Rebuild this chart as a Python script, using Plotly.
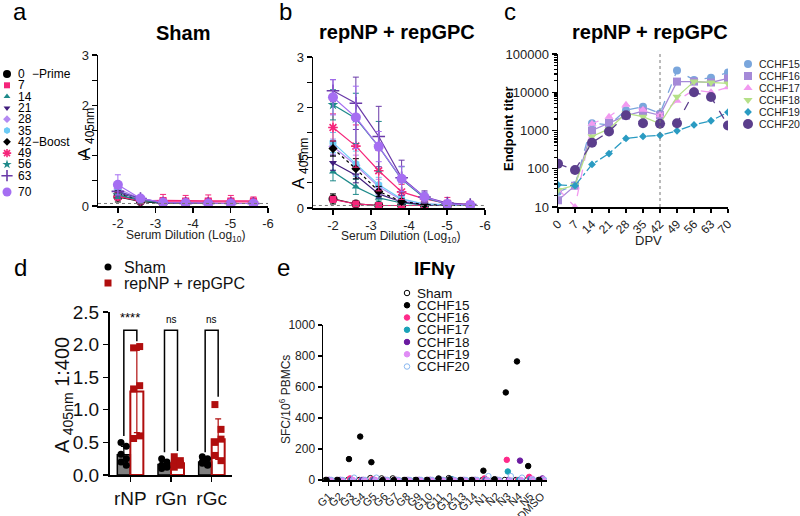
import numpy as np
import plotly.graph_objects as go

W, H = 800, 516

# ---------------- data ----------------
dilution_log = [-2.0, -2.602, -3.204, -3.806, -4.408, -5.010, -5.612]
day_labels = ["0", "7", "14", "21", "28", "35", "42", "49", "56", "63", "70"]

# panel a : Sham, A405 per day (rows) and dilution (cols)
sham_abs = [
    [0.18, 0.09, 0.05, 0.05, 0.05, 0.05, 0.05],
    [0.20, 0.10, 0.11, 0.10, 0.10, 0.10, 0.10],
    [0.22, 0.11, 0.06, 0.05, 0.05, 0.05, 0.05],
    [0.27, 0.13, 0.06, 0.05, 0.05, 0.05, 0.05],
    [0.34, 0.15, 0.07, 0.06, 0.05, 0.05, 0.05],
    [0.30, 0.13, 0.06, 0.05, 0.05, 0.05, 0.05],
    [0.24, 0.11, 0.05, 0.05, 0.05, 0.05, 0.05],
    [0.19, 0.10, 0.08, 0.08, 0.08, 0.08, 0.08],
    [0.22, 0.11, 0.06, 0.05, 0.05, 0.05, 0.05],
    [0.29, 0.15, 0.06, 0.05, 0.05, 0.05, 0.05],
    [0.42, 0.15, 0.07, 0.06, 0.05, 0.05, 0.05],
]
sham_err = [
    [0.10, 0.03, 0.02, 0.02, 0.02, 0.02, 0.02],
    [0.08, 0.04, 0.12, 0.11, 0.12, 0.11, 0.08],
    [0.08, 0.03, 0.02, 0.02, 0.02, 0.02, 0.02],
    [0.08, 0.04, 0.02, 0.02, 0.02, 0.02, 0.02],
    [0.10, 0.05, 0.02, 0.02, 0.02, 0.02, 0.02],
    [0.08, 0.04, 0.02, 0.02, 0.02, 0.02, 0.02],
    [0.07, 0.03, 0.02, 0.02, 0.02, 0.02, 0.02],
    [0.07, 0.04, 0.05, 0.05, 0.05, 0.05, 0.05],
    [0.07, 0.03, 0.02, 0.02, 0.02, 0.02, 0.02],
    [0.08, 0.05, 0.02, 0.02, 0.02, 0.02, 0.02],
    [0.20, 0.05, 0.02, 0.02, 0.02, 0.02, 0.02],
]

# panel b : repNP + repGPC
rep_abs = [
    [0.18, 0.08, 0.05, 0.05, 0.05, 0.05, 0.05],
    [0.17, 0.08, 0.05, 0.05, 0.05, 0.05, 0.05],
    [0.72, 0.42, 0.20, 0.10, 0.06, 0.05, 0.05],
    [0.90, 0.65, 0.28, 0.12, 0.06, 0.05, 0.05],
    [1.22, 0.85, 0.42, 0.16, 0.08, 0.06, 0.05],
    [1.30, 0.88, 0.46, 0.18, 0.08, 0.06, 0.05],
    [1.18, 0.78, 0.33, 0.13, 0.07, 0.05, 0.05],
    [1.60, 1.23, 0.74, 0.32, 0.18, 0.09, 0.07],
    [2.05, 1.78, 1.22, 0.57, 0.20, 0.08, 0.06],
    [2.33, 2.08, 1.42, 0.60, 0.22, 0.10, 0.07],
    [2.20, 1.80, 1.22, 0.58, 0.22, 0.08, 0.06],
]
rep_err = [
    [0.10, 0.03, 0.02, 0.02, 0.02, 0.02, 0.02],
    [0.06, 0.03, 0.02, 0.02, 0.02, 0.02, 0.02],
    [0.18, 0.15, 0.06, 0.03, 0.02, 0.02, 0.02],
    [0.15, 0.15, 0.08, 0.04, 0.03, 0.02, 0.02],
    [0.15, 0.20, 0.15, 0.06, 0.04, 0.03, 0.02],
    [0.20, 0.25, 0.15, 0.07, 0.05, 0.03, 0.02],
    [0.15, 0.20, 0.10, 0.05, 0.03, 0.02, 0.02],
    [0.27, 0.42, 0.40, 0.15, 0.08, 0.12, 0.05],
    [0.30, 0.50, 0.50, 0.25, 0.10, 0.04, 0.03],
    [0.22, 0.52, 0.60, 0.35, 0.12, 0.05, 0.03],
    [0.35, 0.62, 0.30, 0.25, 0.10, 0.04, 0.03],
]

# panel c : endpoint titers
dpv = [0, 7, 14, 21, 28, 35, 42, 49, 56, 63, 70]
animal_names = ["CCHF15", "CCHF16", "CCHF17", "CCHF18", "CCHF19", "CCHF20"]
titer_cchf15 = [25, 37, 1550, 1400, 3400, 4200, 2800, 37000, 21000, 24000, 33000]
titer_cchf16 = [15, 36, 1000, 1600, 2450, 3200, 2500, 19000, 19000, 18000, 23000]
titer_cchf17 = [30, 10, 1500, 2300, 4700, 3500, 2500, 6000, 11500, 10000, 13500]
titer_cchf18 = [28, 37, 700, 1100, 2800, 2300, 1500, 7600, 19000, 18000, 17000]
titer_cchf19 = [38, 36, 130, 250, 620, 700, 750, 980, 1400, 1800, 3000]
titer_cchf20 = [135, 93, 480, 940, 2500, 1550, 1500, 1550, 10000, 7500, 1350]
titers = [titer_cchf15, titer_cchf16, titer_cchf17, titer_cchf18, titer_cchf19, titer_cchf20]

# panel d : antigen ELISA 1:400
antigens = ["rNP", "rGn", "rGc"]
sham_bar = [0.31, 0.16, 0.20]
sham_sd = [0.13, 0.05, 0.05]
rep_bar = [1.28, 0.18, 0.55]
rep_sd = [0.63, 0.06, 0.31]
sham_points = [[0.50, 0.44, 0.32, 0.25, 0.20, 0.15],
               [0.25, 0.20, 0.15, 0.12, 0.10, 0.14],
               [0.28, 0.25, 0.20, 0.15, 0.18, 0.16]]
rep_points = [[1.95, 1.97, 1.32, 1.37, 0.56, 0.60],
              [0.28, 0.22, 0.18, 0.15, 0.12, 0.17],
              [1.08, 0.70, 0.50, 0.55, 0.30, 0.22]]
sig_labels = ["****", "ns", "ns"]

# panel e : IFNγ ELISpot
peptide_pools = ["G1", "G2", "G3", "G4", "G5", "G6", "G7", "G8", "G9", "G10",
                 "G11", "G12", "G13", "G14", "N1", "N2", "N3", "N4", "N5", "DMSO"]
ifn_groups = ["Sham", "CCHF15", "CCHF16", "CCHF17", "CCHF18", "CCHF19", "CCHF20"]
ifn_sham = [0, 0, 0, 0, 12, 10, 10, 0, 0, 0, 0, 12, 0, 0, 0, 0, 0, 0, 0, 0]
ifn_cchf15 = [0, 0, 135, 280, 115, 0, 0, 0, 0, 0, 10, 5, 0, 0, 60, 5, 565, 765, 90, 0]
ifn_cchf16 = [0, 0, 10, 0, 5, 0, 0, 0, 0, 0, 0, 0, 0, 0, 10, 0, 130, 0, 20, 0]
ifn_cchf17 = [0, 0, 0, 0, 0, 0, 0, 0, 0, 0, 0, 5, 0, 0, 0, 0, 55, 0, 5, 0]
ifn_cchf18 = [0, 0, 0, 0, 0, 0, 0, 0, 0, 0, 0, 0, 0, 0, 0, 0, 0, 125, 0, 10]
ifn_cchf19 = [0, 0, 0, 0, 0, 0, 0, 0, 0, 0, 0, 0, 0, 0, 0, 0, 0, 0, 8, 5]
ifn_cchf20 = [0, 0, 15, 0, 15, 0, 0, 0, 0, 0, 0, 0, 0, 0, 25, 0, 25, 15, 0, 0]
ifn_values = [ifn_sham, ifn_cchf15, ifn_cchf16, ifn_cchf17, ifn_cchf18, ifn_cchf19, ifn_cchf20]

# ---------------- styles ----------------
day_colors = ["#000000", "#F5257A", "#1E8A8A", "#3F1C7C", "#B48AF2", "#6CCBF5",
              "#000000", "#F5257A", "#1E8A8A", "#6A3AA8", "#A56EF2"]
day_symbols = ["circle", "square", "triangle-up", "triangle-down", "diamond", "hexagon",
               "diamond", "asterisk-open", "star", "cross-thin-open", "circle"]
day_sizes = [9, 7, 7, 7, 7, 8, 7, 8, 8, 9, 10]
day_dash = ["solid"] * 6 + ["dot"] + ["solid"] * 4

animal_colors = ["#7AA6DC", "#A58AD8", "#F29AF0", "#B5E088", "#2A9BC2", "#5B3E8C"]
animal_symbols = ["circle", "square", "triangle-up", "triangle-down", "diamond", "circle"]
animal_sizes = [8, 8, 8, 8, 6, 10]
animal_dash = ["dash", "solid", "dash", "solid", "dashdot", "dash"]

ifn_colors = ["#000000", "#000000", "#FF2A8A", "#1AA2B8", "#6A1AA0", "#E08CF5", "#8AB8F0"]
ifn_symbols = ["circle-open", "circle", "circle", "circle", "circle", "circle", "circle-open"]

FONT = "Liberation Sans, Arial, sans-serif"
RED = "#B00E0E"


def px(x):
    return x / W


def py(y):
    return 1 - y / H


fig = go.Figure()

# ---- panels a and b ----
for axn, data, errs in [("", sham_abs, sham_err), ("2", rep_abs, rep_err)]:
    for i, lab in enumerate(day_labels):
        sym = day_symbols[i]
        open_sym = sym.endswith("open")
        fig.add_trace(go.Scatter(
            x=dilution_log, y=data[i], mode="lines+markers",
            xaxis="x" + axn, yaxis="y" + axn, showlegend=False,
            line=dict(color=day_colors[i], width=1.2, dash=day_dash[i]),
            marker=dict(symbol=sym, size=day_sizes[i], color=day_colors[i],
                        line=dict(width=1.6 if open_sym else 0, color=day_colors[i])),
            error_y=dict(type="data", array=errs[i], color=day_colors[i], thickness=1, width=3),
        ))

# ---- panel c ----
for k, name in enumerate(animal_names):
    fig.add_trace(go.Scatter(
        x=dpv, y=titers[k], mode="lines+markers", xaxis="x3", yaxis="y3", showlegend=False,
        line=dict(color=animal_colors[k], width=1.3, dash=animal_dash[k]),
        marker=dict(symbol=animal_symbols[k], size=animal_sizes[k], color=animal_colors[k]),
    ))

# ---- panel d ----
ax_pos = np.arange(len(antigens))
bar_w = 0.32
sham_x = ax_pos - bar_w / 2
rep_x = ax_pos + bar_w / 2
fig.add_trace(go.Bar(x=sham_x, y=sham_bar, width=bar_w, xaxis="x4", yaxis="y4", showlegend=False,
                     marker=dict(color="#7F7F7F", line=dict(color="#000000", width=1.5)),
                     error_y=dict(type="data", array=sham_sd, color="#000000", thickness=1.2, width=3)))
fig.add_trace(go.Bar(x=rep_x, y=rep_bar, width=bar_w, xaxis="x4", yaxis="y4", showlegend=False,
                     marker=dict(color="rgba(255,255,255,0)", line=dict(color=RED, width=2)),
                     error_y=dict(type="data", array=rep_sd, color=RED, thickness=1.2, width=3)))
for j in range(len(antigens)):
    n = len(sham_points[j])
    jit = np.array([-0.07 if t % 2 == 0 else 0.06 for t in range(n)])
    fig.add_trace(go.Scatter(x=sham_x[j] + jit, y=sham_points[j], mode="markers", xaxis="x4", yaxis="y4",
                             showlegend=False, marker=dict(symbol="circle", size=7, color="#000000")))
    n = len(rep_points[j])
    jit = np.array([-0.08 if t % 2 == 0 else 0.07 for t in range(n)])
    fig.add_trace(go.Scatter(x=rep_x[j] + jit, y=rep_points[j], mode="markers", xaxis="x4", yaxis="y4",
                             showlegend=False, marker=dict(symbol="square", size=7, color=RED)))

# ---- panel e ----
cat_pos = np.arange(len(peptide_pools))
order = [0, 2, 3, 4, 5, 6, 1]
for g in order:
    off = (g - 3) * 0.09
    fig.add_trace(go.Scatter(
        x=cat_pos + off, y=ifn_values[g], mode="markers", xaxis="x5", yaxis="y5", showlegend=False,
        marker=dict(symbol=ifn_symbols[g], size=5.5, color=ifn_colors[g],
                    line=dict(width=1, color=ifn_colors[g])),
    ))

# ---- legend keys (overlay axis in pixel units) ----
leg_a_y = [74 + 11.3 * i + (5 if i == 10 else 0) for i in range(len(day_labels))]
for i in range(len(day_labels)):
    sym = day_symbols[i]
    fig.add_trace(go.Scatter(x=[7], y=[leg_a_y[i]], mode="markers", xaxis="x6", yaxis="y6", showlegend=False,
                             marker=dict(symbol=sym, size=day_sizes[i] - 1, color=day_colors[i],
                                         line=dict(width=1.6 if sym.endswith("open") else 0, color=day_colors[i]))))
leg_c_y = [64 + 12 * i for i in range(len(animal_names))]
for k in range(len(animal_names)):
    fig.add_trace(go.Scatter(x=[748], y=[leg_c_y[k]], mode="markers", xaxis="x6", yaxis="y6", showlegend=False,
                             marker=dict(symbol=animal_symbols[k], size=animal_sizes[k], color=animal_colors[k])))
leg_d_y = [267, 283]
fig.add_trace(go.Scatter(x=[108], y=[leg_d_y[0]], mode="markers", xaxis="x6", yaxis="y6", showlegend=False,
                         marker=dict(symbol="circle", size=7, color="#000000")))
fig.add_trace(go.Scatter(x=[108], y=[leg_d_y[1]], mode="markers", xaxis="x6", yaxis="y6", showlegend=False,
                         marker=dict(symbol="square", size=7, color=RED)))
leg_e_y = [293 + 12.25 * i for i in range(len(ifn_groups))]
for g in range(len(ifn_groups)):
    fig.add_trace(go.Scatter(x=[407], y=[leg_e_y[g]], mode="markers", xaxis="x6", yaxis="y6", showlegend=False,
                             marker=dict(symbol=ifn_symbols[g], size=5.5, color=ifn_colors[g],
                                         line=dict(width=1, color=ifn_colors[g]))))

# ---------------- axes ----------------
axis_common = dict(showline=True, linecolor="black", linewidth=1.5, ticks="outside", ticklen=5,
                   tickwidth=1.3, tickcolor="black", showgrid=False, zeroline=False, automargin=False,
                   tickfont=dict(family=FONT, size=13, color="#222"))

dil_ticks = [-2, -3, -4, -5, -6]
dil_text = ["-2", "-3", "-4", "-5", "-6"]

layout = dict(
    width=W, height=H, autosize=False, hovermode=False, dragmode=False,
    margin=dict(l=0, r=0, t=0, b=0, pad=0, autoexpand=False),
    paper_bgcolor="white", plot_bgcolor="rgba(0,0,0,0)",
    font=dict(family=FONT, color="black"), showlegend=False,
    xaxis=dict(axis_common, domain=[px(98), px(268)], range=[-1.47, -6], tickvals=dil_ticks, ticktext=dil_text,
               anchor="y"),
    yaxis=dict(axis_common, domain=[py(206), py(55)], range=[0, 3], tickvals=[0, 1, 2, 3],
               minor=dict(dtick=0.5, ticks="outside", ticklen=5, tickcolor="black"), anchor="x"),
    xaxis2=dict(axis_common, domain=[px(313), px(485)], range=[-1.474, -6], tickvals=dil_ticks,
                ticktext=dil_text, anchor="y2"),
    yaxis2=dict(axis_common, domain=[py(208), py(57)], range=[0, 3], tickvals=[0, 1, 2, 3],
                minor=dict(dtick=0.5, ticks="outside", ticklen=5, tickcolor="black"), anchor="x2"),
    xaxis3=dict(axis_common, domain=[px(558), px(728)], range=[0, 70], tickvals=dpv,
                ticktext=[str(d) for d in dpv], tickangle=-45, ticklen=4,
                tickfont=dict(family=FONT, size=12, color="#222"), anchor="y3"),
    yaxis3=dict(axis_common, domain=[py(207), py(54)], type="log", range=[1, 5],
                tickvals=[10, 100, 1000, 10000, 100000], ticktext=["10", "100", "1000", "10000", "100000"],
                minor=dict(ticks="outside", ticklen=3, tickcolor="black", dtick="D1"), anchor="x3"),
    xaxis4=dict(axis_common, domain=[px(110), px(232)], range=[-0.5, 2.5], tickvals=list(ax_pos),
                ticktext=antigens, linewidth=2, tickfont=dict(family=FONT, size=19, color="#111"), anchor="y4"),
    yaxis4=dict(axis_common, domain=[py(475), py(312)], range=[0, 2.5], dtick=0.5, tickformat=".1f",
                linewidth=2, tickfont=dict(family=FONT, size=19, color="#111"), anchor="x4"),
    xaxis5=dict(axis_common, domain=[px(323), px(547)], range=[-0.5, 19.5], tickvals=list(cat_pos),
                ticktext=peptide_pools, tickangle=-45, ticklen=4,
                tickfont=dict(family=FONT, size=11, color="#222"), anchor="y5"),
    yaxis5=dict(axis_common, domain=[py(480), py(325)], range=[0, 1000], dtick=200, ticklen=4,
                tickfont=dict(family=FONT, size=12, color="#222"), anchor="x5"),
    xaxis6=dict(domain=[0, 1], range=[0, W], visible=False, fixedrange=True, automargin=False, anchor="y6"),
    yaxis6=dict(domain=[0, 1], range=[H, 0], visible=False, fixedrange=True, automargin=False, anchor="x6"),
)
fig.update_layout(**layout)

# ---------------- shapes ----------------
shapes = []
for xr in ["x", "x2"]:
    shapes.append(dict(type="line", xref=xr, yref="y" if xr == "x" else "y2", x0=-1.47, x1=-6.1, y0=0.05, y1=0.05,
                       line=dict(color="#777", width=1, dash="dot")))
shapes.append(dict(type="line", xref="x3", yref="y3 domain", x0=42, x1=42, y0=0, y1=1,
                   line=dict(color="#777", width=1, dash="dot")))
left_leg = [0.60, 0.35, 0.35]
right_leg = [2.05, 0.37, 1.20]
top_leg = 2.22
for j in range(len(antigens)):
    shapes.append(dict(type="path", xref="x4", yref="y4",
                       path=f"M {sham_x[j]},{left_leg[j]} L {sham_x[j]},{top_leg} L {rep_x[j]},{top_leg} L {rep_x[j]},{right_leg[j]}",
                       line=dict(color="black", width=1.5)))
fig.update_layout(shapes=shapes)

# ---------------- annotations ----------------
ann = []


def text(x, y, s, size, bold=False, xanchor="center", yanchor="middle", angle=0, color="black"):
    ann.append(dict(x=px(x), y=py(y), xref="paper", yref="paper", text=f"<b>{s}</b>" if bold else s,
                    showarrow=False, xanchor=xanchor, yanchor=yanchor, textangle=angle,
                    font=dict(family=FONT, size=size, color=color)))


for letter, lx, ly in [("a", 20, 11), ("b", 285, 11), ("c", 510, 11), ("d", 20, 267), ("e", 283, 267)]:
    text(lx, ly, letter, 24)
text(183, 33, "Sham", 20, bold=True)
text(397, 32, "repNP + repGPC", 20, bold=True)
text(650, 32, "repNP + repGPC", 20, bold=True)
text(435, 268, "IFNγ", 19, bold=True)

text(86, 133, "A <sub>405nm</sub>", 17, angle=-90)
text(300, 163, "A <sub>405nm</sub>", 17, angle=-90)
text(185, 236, "Serum Dilution (Log<sub>10</sub>)", 12, color="#222")
text(400, 237, "Serum Dilution (Log<sub>10</sub>)", 12, color="#222")
text(508, 129, "Endpoint titer", 13, bold=True, angle=-90)
text(648, 241, "DPV", 13, color="#222")
text(63, 395, "A <sub>405nm</sub> 1:400", 20, angle=-90, color="#111")
text(285, 400, "SFC/10<sup>6</sup> PBMCs", 12, angle=-90, color="#222")

for i, lab in enumerate(day_labels):
    text(16, leg_a_y[i], lab, 12, xanchor="left")
text(30, leg_a_y[0], "−Prime", 12, xanchor="left")
text(30, leg_a_y[6], "−Boost", 12, xanchor="left")
for k, name in enumerate(animal_names):
    text(757, leg_c_y[k], name, 10.5, xanchor="left", color="#222")
text(122, leg_d_y[0], "Sham", 16, xanchor="left", color="#111")
text(122, leg_d_y[1], "repNP + repGPC", 16, xanchor="left", color="#111")
for g, name in enumerate(ifn_groups):
    text(415, leg_e_y[g], name, 13.5, xanchor="left", color="#111")

for j in range(len(antigens)):
    ann.append(dict(x=ax_pos[j], y=top_leg + 0.05, xref="x4", yref="y4", text=sig_labels[j], showarrow=False,
                    yanchor="bottom", font=dict(family=FONT, size=13 if j == 0 else 10, color="black")))
fig.update_layout(annotations=ann)

fig.write_html("out.html", config={"displayModeBar": False, "staticPlot": True},
               post_script="document.body.style.margin='0px';")
